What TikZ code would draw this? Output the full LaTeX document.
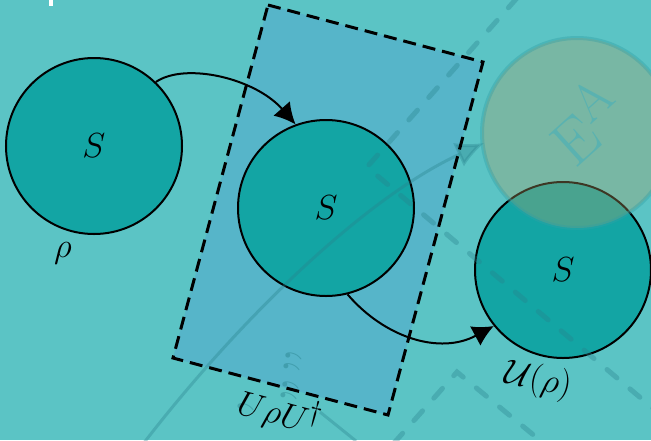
\documentclass[tikz,border=0pt]{standalone}
\usepackage{graphicx}
\usetikzlibrary{arrows.meta}
\definecolor{bgteal}{RGB}{91,196,197}
\definecolor{boxblue}{RGB}{86,181,201}
\definecolor{systeal}{RGB}{19,165,164}
\definecolor{ghost}{RGB}{40,130,140}
\definecolor{envtan}{RGB}{175,160,105}
\definecolor{envedge}{RGB}{50,160,165}
\definecolor{envtext}{RGB}{70,175,185}
% enlarged text: \Huge scaled by a factor
\newcommand{\bigtxt}[2]{\scalebox{#1}{\Huge #2}}
\begin{document}
\begin{tikzpicture}[x=1pt,y=-1pt,
  sys/.style={circle,draw=black,line width=2pt,fill=systeal,minimum size=176pt,
    inner sep=0pt},
  flow/.style={line width=2pt,-{Latex[length=21pt,width=22pt]}},
  lbl/.style={inner sep=0pt},
  unitarybox/.style={fill=boxblue},
  boxedge/.style={line width=3pt,dash pattern=on 13pt off 7pt},
  ghostline/.style={draw=ghost,opacity=0.35,line width=3pt},
  ghostdash/.style={draw=ghost,opacity=0.35,line width=5pt,
    dash pattern=on 13pt off 17pt,line cap=round},
  ghostmark/.style={text=ghost,opacity=0.45,inner sep=0pt},
  envcircle/.style={circle,minimum size=190pt,inner sep=0pt,fill=envtan,
    fill opacity=0.35,draw=envedge,draw opacity=0.4,line width=4pt},
]
% canvas
\useasboundingbox (0,0) rectangle (651,440);
\fill[bgteal] (0,0) rectangle (651,440);
\fill[white] (49,0) rectangle (53,6);

% corners of the tilted unitary box
\coordinate (b1) at (268,5);
\coordinate (b2) at (483,62);
\coordinate (b3) at (388,415);
\coordinate (b4) at (173,358);
\fill[unitarybox] (b1) -- (b2) -- (b3) -- (b4) -- cycle;

% system states
\node[sys] (L) at (94,146) {\bigtxt{1.4}{$S$}};
\node[sys] (M) at (326,208) {\bigtxt{1.4}{$S$}};
\node[sys] (R) at (563,270) {\bigtxt{1.4}{$S$}};

% environment
\node[envcircle] (E) at (577,133) {};
\node[text=envtext,opacity=0.6,inner sep=0pt,rotate=42] (Elbl) at (585,121)
  {\bigtxt{2.55}{$\mathrm{E}^{\mathrm{A}}$}};

% faint background construction
\coordinate (g1) at (140,448);
\coordinate (g2) at (484,143);
\draw[ghostline,-{Latex[length=28pt,width=26pt]}]
  (g1) .. controls (230,330) and (360,200) .. (g2);
\coordinate (h1) at (320,412);
\coordinate (h2) at (356,441);
\draw[ghostline] (h1) -- (h2);
\coordinate (d1) at (517,-2);
\coordinate (d2) at (367,167);
\coordinate (d3) at (655,410);
\draw[ghostdash] (d1) -- (d2) -- (d3);
\coordinate (e1) at (394,443);
\coordinate (e2) at (457,372);
\coordinate (e3) at (542,442);
\draw[ghostdash] (e1) -- (e2) -- (e3);
\node[ghostmark,rotate=80] (q1) at (305,364) {\bigtxt{2.4}{''}};
\node[ghostmark,rotate=80] (q2) at (302,393) {\bigtxt{2.4}{''}};
\node[ghostmark,rotate=80] (q3) at (258,410) {\bigtxt{2.4}{'}};

% box outline
\draw[boxedge] (b1) -- (b2) -- (b3) -- (b4) -- cycle;

% evolution arrows
\draw[flow] (L.46) .. controls (185,62) and (255,78) .. (M.110);
\draw[flow] (M.-76) .. controls (385,338) and (440,355) .. (R.219);

% labels
\node[lbl] (rho) at (63,253) {\bigtxt{1.4}{$\rho$}};
\node[lbl,rotate=-15] (urho) at (280,412) {\bigtxt{1.4}{$U\rho U^\dagger$}};
\node[lbl,rotate=-12] (chan) at (538,381) {\bigtxt{1.4}{$\mathcal{U}(\rho)$}};
\end{tikzpicture}
\end{document}
